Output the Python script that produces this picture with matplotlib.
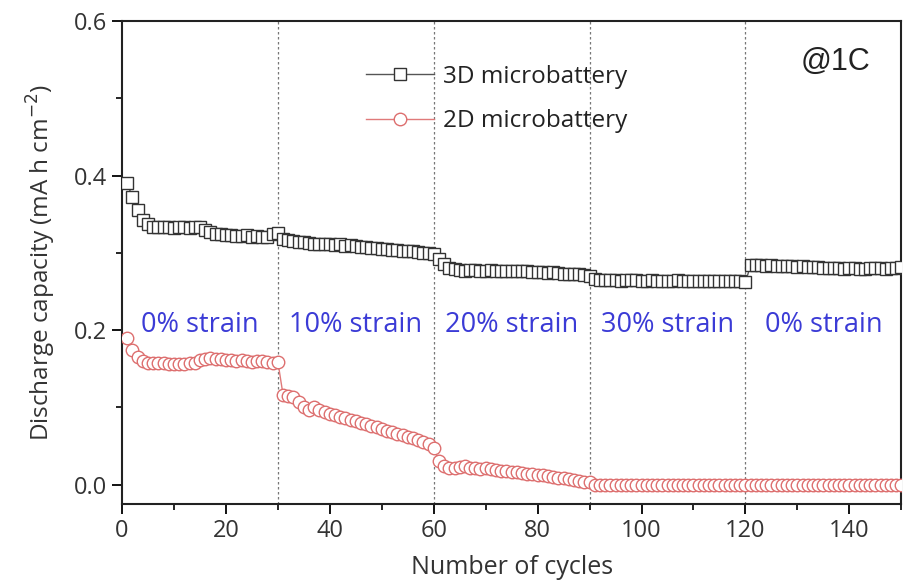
import numpy as np
import matplotlib
matplotlib.use("Agg")
from matplotlib import pyplot as plt
from matplotlib.ticker import MultipleLocator

# cycle numbers
cycles = np.arange(1, 151)

# 3D microbattery discharge capacity (mA h cm-2)
cap_3d = [
    0.390, 0.372, 0.356, 0.343, 0.337, 0.334, 0.333, 0.334, 0.333, 0.332,
    0.333, 0.334, 0.332, 0.333, 0.333, 0.330, 0.327, 0.325, 0.324, 0.323,
    0.323, 0.322, 0.322, 0.323, 0.321, 0.322, 0.321, 0.320, 0.324, 0.326,
    0.318, 0.316, 0.315, 0.314, 0.314, 0.313, 0.312, 0.312, 0.311, 0.311,
    0.310, 0.311, 0.309, 0.310, 0.309, 0.307, 0.308, 0.306, 0.306, 0.305,
    0.305, 0.304, 0.304, 0.303, 0.302, 0.302, 0.301, 0.300, 0.300, 0.298,
    0.292, 0.286, 0.281, 0.279, 0.278, 0.277, 0.278, 0.278, 0.277, 0.277,
    0.278, 0.277, 0.277, 0.276, 0.277, 0.276, 0.276, 0.276, 0.275, 0.275,
    0.275, 0.274, 0.275, 0.274, 0.273, 0.273, 0.272, 0.272, 0.271, 0.270,
    0.266, 0.265, 0.265, 0.265, 0.265, 0.264, 0.265, 0.265, 0.265, 0.264,
    0.264, 0.265, 0.264, 0.264, 0.264, 0.264, 0.265, 0.264, 0.264, 0.264,
    0.264, 0.264, 0.263, 0.264, 0.264, 0.263, 0.264, 0.263, 0.263, 0.262,
    0.284, 0.284, 0.284, 0.283, 0.284, 0.283, 0.283, 0.283, 0.283, 0.282,
    0.283, 0.282, 0.282, 0.282, 0.281, 0.281, 0.280, 0.280, 0.279, 0.281,
    0.280, 0.279, 0.279, 0.280, 0.280, 0.280, 0.279, 0.280, 0.280, 0.282,
]

# 2D microbattery discharge capacity (mA h cm-2)
cap_2d = [
    0.190, 0.174, 0.165, 0.160, 0.158, 0.157, 0.157, 0.157, 0.156, 0.156,
    0.156, 0.156, 0.157, 0.158, 0.161, 0.163, 0.164, 0.163, 0.162, 0.161,
    0.161, 0.160, 0.161, 0.160, 0.159, 0.160, 0.160, 0.159, 0.158, 0.159,
    0.116, 0.115, 0.113, 0.107, 0.101, 0.097, 0.101, 0.097, 0.094, 0.092,
    0.090, 0.088, 0.086, 0.084, 0.082, 0.080, 0.078, 0.076, 0.074, 0.072,
    0.070, 0.068, 0.066, 0.064, 0.062, 0.060, 0.058, 0.055, 0.052, 0.048,
    0.030, 0.024, 0.022, 0.021, 0.023, 0.024, 0.022, 0.021, 0.020, 0.021,
    0.020, 0.019, 0.018, 0.018, 0.017, 0.016, 0.015, 0.014, 0.014, 0.013,
    0.012, 0.011, 0.010, 0.009, 0.008, 0.007, 0.006, 0.005, 0.004, 0.003,
] + [0.0] * 60

strain_labels = ["0% strain", "10% strain", "20% strain", "30% strain", "0% strain"]
strain_bounds = [0, 30, 60, 90, 120, 150]

plt.rcParams['font.family'] = ['Open Sans', 'DejaVu Sans']

fig = plt.figure(figsize=(9.04, 5.84), dpi=100)
ax = fig.add_axes([0.135, 0.137, 0.862, 0.827])

ax.plot(cycles, cap_3d, color='#555555', lw=1.0, marker='s', ms=9,
        mfc='white', mec='#333333', mew=1.0, label='3D microbattery', zorder=3)
ax.plot(cycles, cap_2d, color='#e07a7a', lw=1.0, marker='o', ms=9,
        mfc='white', mec='#dd6f6f', mew=1.0, label='2D microbattery', zorder=3)

for b in strain_bounds[1:-1]:
    ax.axvline(b, color='#777777', ls=(0, (2, 2)), lw=0.9, zorder=1)

for i, lab in enumerate(strain_labels):
    mid = (strain_bounds[i] + strain_bounds[i + 1]) / 2
    ax.text(mid, 0.206, lab, color='#3b3bd6', fontsize=19.5, ha='center', va='center')

ax.text(0.915, 0.915, '@1C', transform=ax.transAxes, fontsize=22,
        family='Liberation Sans', color='#222222', ha='center', va='center')

ax.legend(loc='upper left', bbox_to_anchor=(0.285, 0.955), frameon=False,
          fontsize=17.5, handlelength=2.8, handletextpad=0.35, labelspacing=0.85,
          labelcolor='#222222')

ax.set_xlim(0, 150)
ax.set_ylim(-0.025, 0.6)
ax.xaxis.set_major_locator(MultipleLocator(20))
ax.xaxis.set_minor_locator(MultipleLocator(10))
ax.yaxis.set_major_locator(MultipleLocator(0.2))
ax.yaxis.set_minor_locator(MultipleLocator(0.1))
ax.yaxis.set_major_formatter(matplotlib.ticker.FormatStrFormatter('%.1f'))
ax.tick_params(which='major', direction='out', length=7, width=1.3,
               labelsize=17, labelcolor='#333333')
ax.tick_params(which='minor', direction='out', length=4, width=1.2)
for s in ax.spines.values():
    s.set_linewidth(1.5)
    s.set_color('#222222')

ax.set_xlabel('Number of cycles', fontsize=18, color='#333333', labelpad=9)
ax.set_ylabel('Discharge capacity (mA h cm$^{-2}$)', fontsize=17.5, color='#333333', labelpad=12)

fig.savefig('out.png', dpi=100)
